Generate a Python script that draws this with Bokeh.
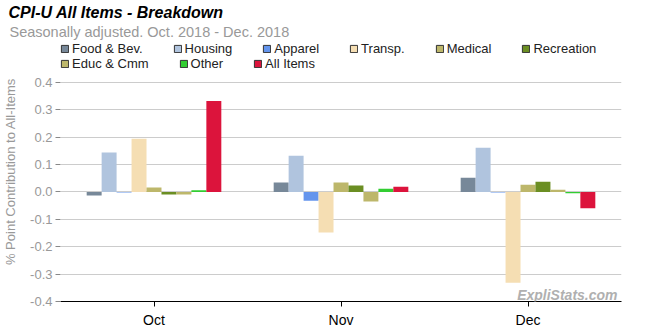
from bokeh.plotting import figure
from bokeh.models import (ColumnDataSource, FactorRange, Legend, LegendItem, Label, Title,
                          FixedTicker, NumeralTickFormatter, Range1d)
from bokeh.transform import dodge
from bokeh.embed import file_html
from bokeh.resources import INLINE

months = ["Oct", "Nov", "Dec"]
series_names = ["Food & Bev.", "Housing", "Apparel", "Transp.", "Medical",
                "Recreation", "Educ & Cmm", "Other", "All Items"]
food = [-0.013, 0.034, 0.052]
housing = [0.144, 0.132, 0.161]
apparel = [-0.002, -0.032, -0.002]
transp = [0.194, -0.148, -0.332]
medical = [0.016, 0.034, 0.026]
recreation = [-0.009, 0.023, 0.037]
educ = [-0.009, -0.035, 0.008]
other = [0.006, 0.012, -0.005]
all_items = [0.332, 0.019, -0.060]
colors = ["#778899", "#B0C4DE", "#6495ED", "#F5DEB3", "#BDB76B",
          "#6B8E23", "#BDB76B", "#32CD32", "#DC143C"]
y_ticks = [-0.4, -0.3, -0.2, -0.1, 0.0, 0.1, 0.2, 0.3, 0.4]

values = [food, housing, apparel, transp, medical, recreation, educ, other, all_items]
keys = ["s%d" % i for i in range(len(values))]
data = {"month": months}
for k, v in zip(keys, values):
    data[k] = v
source = ColumnDataSource(data)

FONT = "Liberation Sans"

# frame extends up to y=41 px so that the legend rows sit inside it;
# scale stays 275 px per unit (0.4 gridline at y=82 px)
FRAME_TOP = 41
y_end = -0.4 + (302 - FRAME_TOP) / 275.0

p = figure(x_range=FactorRange(*months, range_padding=0), y_range=Range1d(-0.4, y_end),
           width=650, height=330, output_backend="svg", toolbar_location=None,
           title=None, min_border_left=60, min_border_right=29, min_border_top=FRAME_TOP,
           min_border_bottom=28)
p.outline_line_color = None

bw = 0.08
proxies = []
for i, (k, c) in enumerate(zip(keys, colors)):
    off = (i - 4) * bw
    p.vbar(x=dodge("month", off, range=p.x_range), top=k, bottom=0, width=bw,
           source=source, fill_color=c, line_color=None)
    r = p.vbar(x=dodge("month", off, range=p.x_range), top=k, bottom=0, width=bw,
               source=source, fill_color=c, line_color="#333333", line_width=1)
    r.visible = False
    proxies.append(r)

def make_legend(idx, loc):
    lg = Legend(items=[LegendItem(label=series_names[i], renderers=[proxies[i]]) for i in idx],
                orientation="horizontal", location=loc, click_policy="none")
    lg.border_line_color = None
    lg.background_fill_alpha = 0
    lg.padding = 0
    lg.margin = 0
    lg.spacing = 30
    lg.glyph_width = 9
    lg.glyph_height = 9
    lg.label_standoff = 3
    lg.label_height = 14
    lg.label_width = 10
    lg.label_text_font = FONT
    lg.label_text_font_size = "13px"
    lg.label_text_color = "#222222"
    return lg

p.add_layout(make_legend([0, 1, 2, 3, 4, 5], (0, 302 - 57)), "center")
p.add_layout(make_legend([6, 7, 8], (0, 302 - 72)), "center")

p.add_layout(Title(text="Seasonally adjusted. Oct. 2018 - Dec. 2018", align="left",
                   offset=-51, standoff=3, text_font=FONT, text_font_size="14.5px",
                   text_font_style="normal", text_color="#999999"), "above")
p.add_layout(Title(text="CPI-U All Items - Breakdown", align="left", offset=-52,
                   standoff=0, text_font=FONT, text_font_size="16px",
                   text_font_style="bold italic", text_color="#000000"), "above")

p.xgrid.grid_line_color = None
p.ygrid.grid_line_color = "#cccccc"
p.ygrid.grid_line_width = 1
p.yaxis.ticker = FixedTicker(ticks=y_ticks)
p.yaxis.formatter = NumeralTickFormatter(format="0.0")
p.yaxis.axis_line_color = None
p.yaxis.major_tick_line_color = "#888888"
p.yaxis.major_tick_in = 0
p.yaxis.major_tick_out = 5
p.yaxis.minor_tick_line_color = None
p.yaxis.major_label_text_color = "#999999"
p.yaxis.major_label_text_font = FONT
p.yaxis.major_label_text_font_size = "13px"
p.yaxis.major_label_standoff = 3
p.yaxis.axis_label = "% Point Contribution to All-Items"
p.yaxis.axis_label_text_font = FONT
p.yaxis.axis_label_text_font_size = "13px"
p.yaxis.axis_label_text_font_style = "normal"
p.yaxis.axis_label_text_color = "#999999"
p.yaxis.axis_label_standoff = 9

p.xaxis.axis_line_color = "#000000"
p.xaxis.major_tick_line_color = "#000000"
p.xaxis.major_tick_in = 0
p.xaxis.major_tick_out = 5
p.xaxis.minor_tick_line_color = None
p.xaxis.major_label_text_font = FONT
p.xaxis.major_label_text_font_size = "14px"
p.xaxis.major_label_text_color = "#000000"
p.xaxis.major_label_standoff = 5

p.add_layout(Label(x=557, y=7, x_units="screen", y_units="screen",
                   text="ExpliStats.com", text_font=FONT,
                   text_font_size="14px", text_font_style="bold italic",
                   text_color="#b0b0b0", text_align="right", text_baseline="middle"))

open("out.html", "w").write(file_html(p, INLINE))
